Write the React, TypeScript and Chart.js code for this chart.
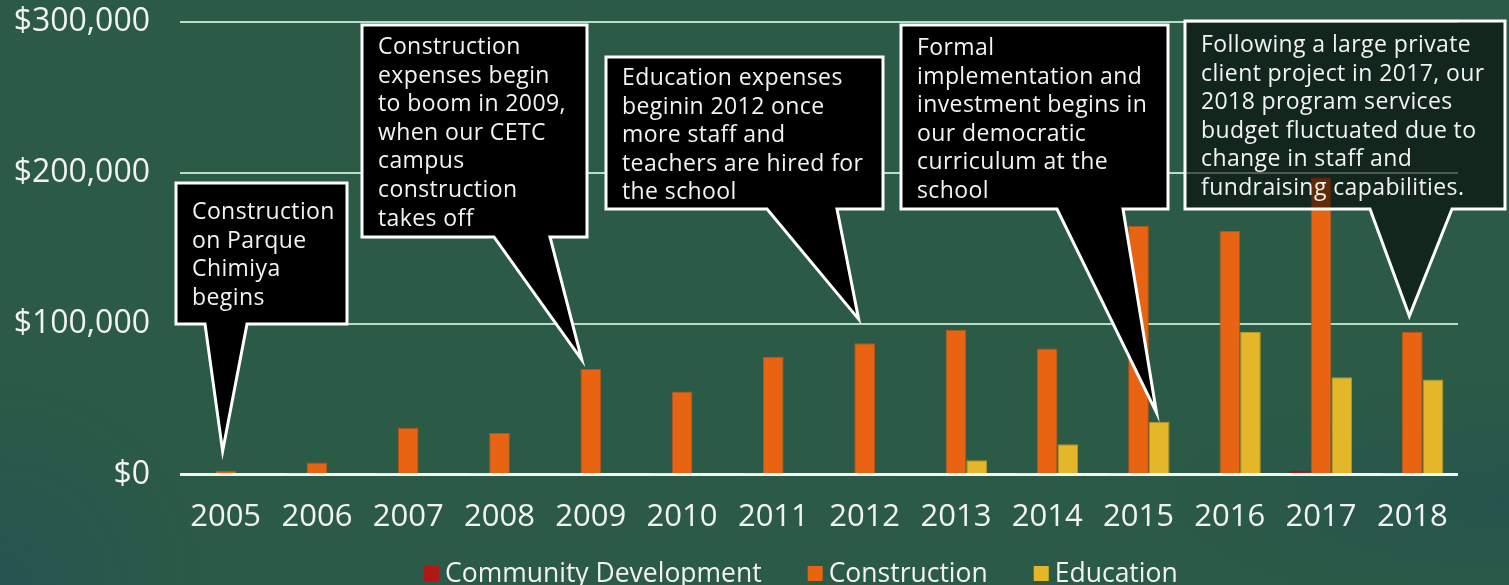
import { useEffect, useRef } from "react";
import { Chart, registerables } from "chart.js";

Chart.register(...registerables);

// ---- data ----
const years = ["2005", "2006", "2007", "2008", "2009", "2010", "2011", "2012", "2013", "2014", "2015", "2016", "2017", "2018"];
const communityDevelopment = [0, 800, 800, 800, 800, 800, 800, 0, 0, 800, 800, 800, 2500, 800];
const construction = [2500, 8000, 31000, 27500, 70000, 55000, 78000, 87000, 96000, 83500, 165000, 161500, 197000, 94500];
const education = [0, 0, 0, 0, 1000, 1000, 1000, 800, 9500, 20000, 35000, 94500, 64500, 63000];
const yTickValues = [0, 100000, 200000, 300000];
const seriesNames = ["Community Development", "Construction", "Education"];
const seriesColors = ["#B01716", "#E86413", "#E4B72B"];
const seriesBorders = ["#8E1412", "#B4561C", "#B99627"];

// Speech-bubble notes: each tail points at a year / amount on the chart.
const notes = [
  {
    lines: ["Construction", "on Parque", "Chimiya", "begins"],
    year: "2005", amount: 15500, dx: -3,
  },
  {
    lines: ["Construction", "expenses begin", "to boom in 2009,", "when our CETC", "campus", "construction", "takes off"],
    year: "2009", amount: 76000, dx: -9,
  },
  {
    lines: ["Education expenses", "beginin 2012 once", "more staff and", "teachers are hired for", "the school"],
    year: "2012", amount: 103000, dx: -6,
  },
  {
    lines: ["Formal", "implementation and", "investment begins in", "our democratic", "curriculum at the", "school"],
    year: "2015", amount: 41000, dx: 18,
  },
  {
    lines: ["Following a large private", "client project in 2017, our", "2018 program services", "budget fluctuated due to", "change in staff and", "fundraising capabilities."],
    year: "2018", amount: 105000, dx: -3,
  },
];

// Bubble geometry (left, top, right, bottom, tail base left/right, first baseline, fill)
const noteBoxes = [
  { l: 176, t: 183, r: 347, b: 324, bl: 205, br: 247, base: 219, fill: "#000000" },
  { l: 362, t: 25, r: 587, b: 237, bl: 494, br: 550, base: 54, fill: "#000000" },
  { l: 606, t: 57, r: 883, b: 209, bl: 767, br: 837, base: 85, fill: "#000000" },
  { l: 901, t: 25, r: 1168, b: 209, bl: 1057, br: 1123, base: 55, fill: "#000000" },
  { l: 1185, t: 21, r: 1505, b: 209, bl: 1370, br: 1452, base: 52, fill: "rgba(0,0,0,0.58)" },
];

const FONT = '"Open Sans", "Noto Sans", sans-serif';

const notesPlugin = {
  id: "notesAndLegend",
  afterDraw(chart: any) {
    const { ctx, scales } = chart;
    const xs = scales.x;
    const ys = scales.y;
    ctx.save();
    notes.forEach((n, i) => {
      const g = noteBoxes[i];
      const tipX = xs.getPixelForValue(years.indexOf(n.year)) + n.dx;
      const tipY = ys.getPixelForValue(n.amount);
      ctx.beginPath();
      ctx.moveTo(g.l, g.t);
      ctx.lineTo(g.r, g.t);
      ctx.lineTo(g.r, g.b);
      ctx.lineTo(g.br, g.b);
      ctx.lineTo(tipX, tipY);
      ctx.lineTo(g.bl, g.b);
      ctx.lineTo(g.l, g.b);
      ctx.closePath();
      ctx.fillStyle = g.fill;
      ctx.fill();
      ctx.lineWidth = 3;
      ctx.strokeStyle = "#ffffff";
      ctx.lineJoin = "miter";
      ctx.stroke();

      ctx.fillStyle = "#f3f3f3";
      ctx.font = `23px ${FONT}`;
      (ctx as any).letterSpacing = "0.4px";
      ctx.textAlign = "left";
      ctx.textBaseline = "alphabetic";
      n.lines.forEach((line, k) => {
        ctx.fillText(line, g.l + 16, g.base + k * 28.6);
      });
    });

    // legend along the bottom edge
    (ctx as any).letterSpacing = "0px";
    ctx.font = `26.5px ${FONT}`;
    ctx.textBaseline = "alphabetic";
    let x = 424;
    seriesNames.forEach((name, i) => {
      ctx.fillStyle = seriesColors[i];
      ctx.fillRect(x, 566, 15, 15);
      ctx.fillStyle = "#f3f3f3";
      ctx.fillText(name, x + 21, 582);
      x += 21 + ctx.measureText(name).width + 46;
    });
    ctx.restore();
  },
};

export default function App() {
  const canvasRef = useRef<HTMLCanvasElement | null>(null);

  useEffect(() => {
    document.body.style.margin = "0";
    const canvas = canvasRef.current;
    if (!canvas) return;
    Chart.defaults.font.family = FONT;

    const chart = new Chart(canvas, {
      type: "bar",
      data: {
        labels: years,
        datasets: [communityDevelopment, construction, education].map((values, i) => ({
          label: seriesNames[i],
          data: values,
          backgroundColor: seriesColors[i],
          borderColor: seriesBorders[i],
          borderWidth: 1,
          categoryPercentage: 0.68,
          barPercentage: 1,
        })),
      },
      options: {
        responsive: false,
        animation: false,
        devicePixelRatio: 1,
        layout: { padding: { top: 22, right: 51, bottom: 0, left: 0 } },
        plugins: {
          legend: { display: false },
          tooltip: { enabled: false },
        },
        scales: {
          x: {
            grid: { display: false, drawTicks: false },
            border: { display: false },
            ticks: {
              color: "#f3f3f3",
              font: { size: 31 },
              padding: 24,
              maxRotation: 0,
              autoSkip: false,
            },
            afterFit: (s: any) => {
              s.height = 110.5;
              s.paddingLeft = 0;
              s.paddingRight = 0;
            },
          },
          y: {
            min: 0,
            max: 300000,
            afterBuildTicks: (s: any) => {
              s.ticks = yTickValues.map((v) => ({ value: v }));
            },
            grid: {
              drawTicks: false,
              color: (c: any) => (c.tick && c.tick.value === 0 ? "#f2f6f3" : "#b9dcc6"),
              lineWidth: (c: any) => (c.tick && c.tick.value === 0 ? 3 : 2),
            },
            border: { display: false },
            ticks: {
              color: "#f3f3f3",
              font: { size: 32 },
              padding: 30,
              callback: (v: any) => "$" + Number(v).toLocaleString("en-US"),
            },
            afterFit: (s: any) => {
              s.width = 180;
              s.paddingTop = 0;
              s.paddingBottom = 0;
            },
          },
        },
      },
      plugins: [notesPlugin],
    });

    return () => chart.destroy();
  }, []);

  return (
    <div
      style={{
        width: 1509,
        height: 585,
        position: "relative",
        overflow: "hidden",
        background:
          "radial-gradient(circle at 0% 100%, rgba(38,82,84,0.8) 0px, rgba(38,82,84,0) 220px), radial-gradient(ellipse at 100% 85%, rgba(37,83,79,0.85) 0px, rgba(37,83,79,0) 360px), #2b5b46",
      }}
    >
      <canvas ref={canvasRef} width={1509} height={585} style={{ display: "block" }} />
    </div>
  );
}
